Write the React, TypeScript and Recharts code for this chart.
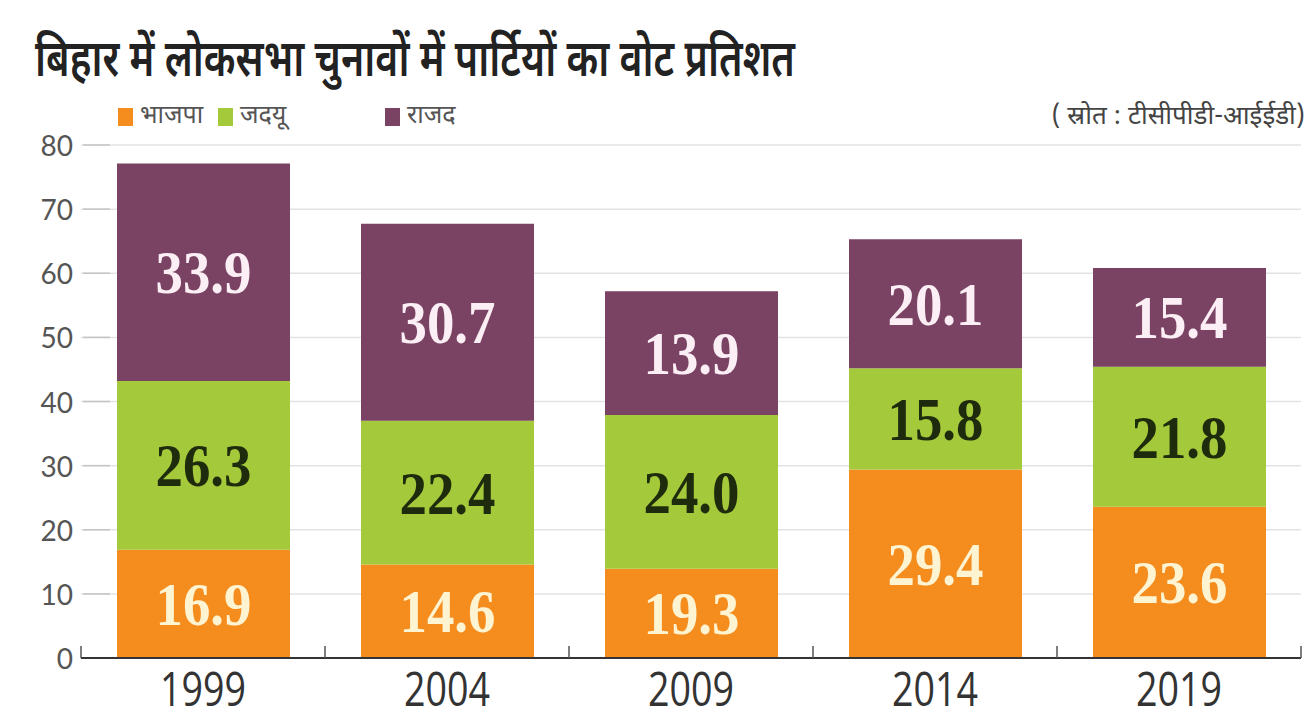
import { BarChart, Bar, XAxis, YAxis, CartesianGrid, Legend, LabelList } from "recharts"

const years = ["1999", "2004", "2009", "2014", "2019"]

// vote share (%) as drawn by the bar heights
const bjp = [16.9, 14.6, 13.9, 29.4, 23.6]
const jdu = [26.3, 22.4, 24.0, 15.8, 21.8]
const rjd = [33.9, 30.7, 19.3, 20.1, 15.4]

// numbers printed inside the segments (2009 in the source prints BJP/RJD the other way round)
const bjpLabels = ["16.9", "14.6", "19.3", "29.4", "23.6"]
const jduLabels = ["26.3", "22.4", "24.0", "15.8", "21.8"]
const rjdLabels = ["33.9", "30.7", "13.9", "20.1", "15.4"]

const yTicks = [0, 10, 20, 30, 40, 50, 60, 70, 80]

const seriesNames = { bjp: "भाजपा", jdu: "जदयू", rjd: "राजद" }
const legendOrder = [seriesNames.bjp, seriesNames.jdu, seriesNames.rjd]
const title = "बिहार में लोकसभा चुनावों में पार्टियों का वोट प्रतिशत"
const source = "( स्रोत : टीसीपीडी-आईईडी)"

const data = years.map((year, i) => ({
  year,
  bjp: bjp[i],
  jdu: jdu[i],
  rjd: rjd[i],
  bjpLabel: bjpLabels[i],
  jduLabel: jduLabels[i],
  rjdLabel: rjdLabels[i],
}))

const COLORS = { bjp: "#f48c1e", jdu: "#a4c93a", rjd: "#7a4263" }
const LABEL_COLORS = { bjp: "#fff4d2", jdu: "#1e2b0c", rjd: "#fbeef4" }

const W = 1313
const H = 713
const PLOT_LEFT = 81
const PLOT_RIGHT = 1301
const PLOT_TOP = 145
const PLOT_BOTTOM = 658
const BAND = (PLOT_RIGHT - PLOT_LEFT) / years.length

const DEVA = "'Noto Sans Devanagari', 'Noto Sans', 'DejaVu Sans', sans-serif"

function YTick(props: any) {
  const { x, y, payload } = props
  return (
    <g>
      <text x={x} y={y} textAnchor="end" dominantBaseline="central" fontSize={28} fill="#555" fontFamily="Lato, sans-serif">
        {payload.value}
      </text>
      {payload.value !== 0 && (
        <line x1={PLOT_LEFT + 2} x2={PLOT_LEFT + 29} y1={y} y2={y} stroke="#c4c4c4" strokeWidth={1.5} />
      )}
    </g>
  )
}

function XTick(props: any) {
  const { x, payload, index } = props
  return (
    <g>
      <text
        x={x}
        y={PLOT_BOTTOM + 29}
        textAnchor="middle"
        dominantBaseline="central"
        fontSize={48}
        textLength={86}
        lengthAdjust="spacingAndGlyphs"
        fill="#333"
        fontFamily="'Open Sans', sans-serif"
      >
        {payload.value}
      </text>
      <line x1={x + BAND / 2} x2={x + BAND / 2} y1={PLOT_BOTTOM - 12} y2={PLOT_BOTTOM} stroke="#555" strokeWidth={1.5} />
      {index === 0 && (
        <line x1={x - BAND / 2} x2={x - BAND / 2} y1={PLOT_BOTTOM - 12} y2={PLOT_BOTTOM} stroke="#555" strokeWidth={1.5} />
      )}
    </g>
  )
}

function segLabel(color: string) {
  return (props: any) => {
    const { x, y, width, height, value } = props
    return (
      <text
        x={Number(x) + Number(width) / 2}
        y={Number(y) + Number(height) / 2}
        textAnchor="middle"
        dominantBaseline="central"
        fontSize={62}
        fontWeight="bold"
        textLength={96}
        lengthAdjust="spacingAndGlyphs"
        fill={color}
        fontFamily="'Liberation Serif', serif"
      >
        {value}
      </text>
    )
  }
}

const legendLeft = [118, 218, 385]

function LegendContent(props: any) {
  const items = [...(props.payload || [])].sort(
    (a: any, b: any) => legendOrder.indexOf(a.value) - legendOrder.indexOf(b.value)
  )
  return (
    <div style={{ position: "relative", height: 30 }}>
      {items.map((item: any, i: number) => (
        <div
          key={item.value}
          style={{ position: "absolute", left: legendLeft[i], top: 0, display: "flex", alignItems: "center", whiteSpace: "nowrap" }}
        >
          <span style={{ display: "inline-block", width: 15, height: 18, background: item.color, marginRight: 7 }} />
          <span style={{ fontFamily: DEVA, fontSize: 25, color: "#555", lineHeight: "30px" }}>{item.value}</span>
        </div>
      ))}
    </div>
  )
}

export default function App() {
  return (
    <div style={{ position: "absolute", left: 0, top: 0, width: W, height: H, background: "#fff", overflow: "hidden" }}>
      <BarChart
        width={W}
        height={H}
        data={data}
        barSize={173}
        margin={{ top: PLOT_TOP, right: W - PLOT_RIGHT, bottom: 0, left: 0 }}
      >
        <CartesianGrid vertical={false} stroke="#e3e3e3" strokeWidth={1.5} />
        <YAxis
          width={PLOT_LEFT}
          domain={[0, 80]}
          ticks={yTicks}
          axisLine={false}
          tickLine={false}
          tick={<YTick />}
          interval={0}
        />
        <XAxis
          dataKey="year"
          height={H - PLOT_BOTTOM}
          axisLine={{ stroke: "#333", strokeWidth: 2 }}
          tickLine={false}
          tick={<XTick />}
          interval={0}
        />
        <Legend
          layout="horizontal"
          verticalAlign="middle"
          align="center"
          content={<LegendContent />}
          wrapperStyle={{ position: "absolute", top: 102, left: 0, width: 600 }}
        />
        <Bar dataKey="bjp" name={seriesNames.bjp} stackId="a" fill={COLORS.bjp} isAnimationActive={false}>
          <LabelList dataKey="bjpLabel" content={segLabel(LABEL_COLORS.bjp)} />
        </Bar>
        <Bar dataKey="jdu" name={seriesNames.jdu} stackId="a" fill={COLORS.jdu} isAnimationActive={false}>
          <LabelList dataKey="jduLabel" content={segLabel(LABEL_COLORS.jdu)} />
        </Bar>
        <Bar dataKey="rjd" name={seriesNames.rjd} stackId="a" fill={COLORS.rjd} isAnimationActive={false}>
          <LabelList dataKey="rjdLabel" content={segLabel(LABEL_COLORS.rjd)} />
        </Bar>
      </BarChart>
      <svg width={W} height={H} style={{ position: "absolute", left: 0, top: 0, pointerEvents: "none" }}>
        <text x={35} y={76} fontSize={52} fontWeight={600} fill="#222" fontFamily={DEVA} textLength={760} lengthAdjust="spacingAndGlyphs">
          {title}
        </text>
        <text x={1305} y={118} textAnchor="end" dominantBaseline="central" fontSize={26} fill="#444" fontFamily={DEVA}>
          {source}
        </text>
      </svg>
    </div>
  )
}
